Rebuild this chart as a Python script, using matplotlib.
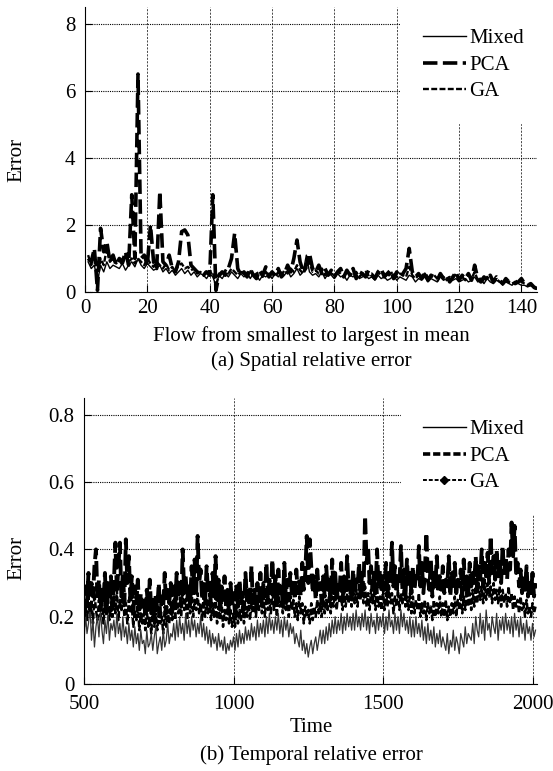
import matplotlib
matplotlib.use("Agg")
import matplotlib.pyplot as plt
from matplotlib.lines import Line2D

plt.rcParams["font.family"] = ["Liberation Serif", "DejaVu Serif"]
plt.rcParams["font.size"] = 14

# ---- (a) spatial relative error, flows 1..145 ----
flow_idx = list(range(1, 146))
spatial_pca = [
    1.00, 0.90, 1.30, 0.05, 1.90, 1.20, 1.50, 0.90, 1.10, 0.80,
    1.00, 0.90, 1.20, 0.80, 2.90, 1.00, 6.50, 1.00, 1.10, 0.80,
    2.00, 0.90, 0.70, 3.00, 0.90, 0.80, 1.10, 0.70, 0.60, 0.90,
    1.80, 1.85, 1.70, 0.80, 0.70, 0.60, 0.55, 0.50, 0.60, 0.50,
    2.90, 0.05, 0.50, 0.60, 0.50, 0.70, 1.00, 1.75, 0.70, 0.50,
    0.60, 0.45, 0.70, 0.50, 0.40, 0.65, 0.50, 0.75, 0.45, 0.60,
    0.50, 0.70, 0.45, 0.55, 0.80, 0.60, 1.00, 1.55, 0.90, 0.60,
    0.80, 1.15, 0.70, 0.60, 0.80, 0.55, 0.70, 0.50, 0.65, 0.45,
    0.60, 0.70, 0.45, 0.65, 0.50, 0.70, 0.40, 0.60, 0.55, 0.45,
    0.65, 0.50, 0.40, 0.60, 0.70, 0.45, 0.55, 0.65, 0.40, 0.60,
    0.45, 0.55, 0.70, 1.30, 0.60, 0.45, 0.55, 0.40, 0.60, 0.35,
    0.50, 0.45, 0.35, 0.55, 0.40, 0.50, 0.30, 0.45, 0.60, 0.35,
    0.50, 0.40, 0.55, 0.35, 0.80, 0.40, 0.30, 0.45, 0.35, 0.50,
    0.30, 0.45, 0.35, 0.25, 0.40, 0.30, 0.35, 0.25, 0.30, 0.40,
    0.25, 0.20, 0.25, 0.15, 0.10,
]
spatial_mixed = [
    0.90, 0.70, 0.80, 0.30, 0.80, 0.60, 0.90, 0.70, 0.80, 0.75,
    0.70, 0.85, 0.65, 0.80, 0.90, 0.75, 1.00, 0.80, 0.70, 0.85,
    0.75, 0.65, 0.70, 0.80, 0.60, 0.70, 0.55, 0.65, 0.50, 0.60,
    0.70, 0.55, 0.65, 0.50, 0.60, 0.45, 0.55, 0.50, 0.40, 0.55,
    0.45, 0.20, 0.50, 0.40, 0.55, 0.45, 0.60, 0.50, 0.40, 0.55,
    0.45, 0.60, 0.40, 0.55, 0.50, 0.35, 0.50, 0.45, 0.55, 0.40,
    0.55, 0.45, 0.60, 0.50, 0.65, 0.45, 0.55, 0.70, 0.50, 0.60,
    1.10, 0.60, 0.50, 0.55, 0.45, 0.60, 0.40, 0.55, 0.50, 0.40,
    0.55, 0.45, 0.50, 0.35, 0.50, 0.45, 0.55, 0.40, 0.45, 0.50,
    0.40, 0.45, 0.35, 0.50, 0.40, 0.45, 0.35, 0.40, 0.50, 0.35,
    0.45, 0.40, 0.35, 0.50, 0.45, 0.30, 0.40, 0.35, 0.45, 0.30,
    0.40, 0.35, 0.30, 0.45, 0.35, 0.40, 0.30, 0.35, 0.40, 0.30,
    0.35, 0.40, 0.30, 0.35, 0.45, 0.30, 0.35, 0.25, 0.40, 0.30,
    0.25, 0.35, 0.30, 0.20, 0.30, 0.25, 0.20, 0.30, 0.25, 0.20,
    0.20, 0.15, 0.20, 0.10, 0.08,
]
spatial_ga = [
    1.10, 0.80, 1.20, 0.40, 1.00, 0.80, 1.30, 0.90, 1.00, 0.85,
    0.95, 0.80, 1.10, 0.90, 1.00, 0.85, 1.00, 0.90, 0.80, 1.00,
    0.85, 0.75, 0.90, 0.80, 0.70, 0.85, 0.65, 0.75, 0.60, 0.80,
    0.85, 0.70, 0.75, 0.65, 0.70, 0.55, 0.60, 0.50, 0.65, 0.55,
    0.60, 0.15, 0.55, 0.50, 0.65, 0.55, 0.70, 0.60, 0.50, 0.60,
    0.55, 0.50, 0.65, 0.45, 0.55, 0.60, 0.45, 0.60, 0.50, 0.55,
    0.45, 0.60, 0.50, 0.65, 0.55, 0.70, 0.60, 0.80, 0.65, 0.55,
    0.70, 0.90, 0.60, 0.65, 0.55, 0.70, 0.50, 0.60, 0.55, 0.50,
    0.60, 0.55, 0.45, 0.60, 0.55, 0.50, 0.60, 0.45, 0.55, 0.60,
    0.50, 0.55, 0.45, 0.60, 0.50, 0.55, 0.45, 0.55, 0.60, 0.45,
    0.55, 0.50, 0.45, 0.75, 0.50, 0.40, 0.50, 0.45, 0.55, 0.40,
    0.45, 0.50, 0.40, 0.50, 0.45, 0.35, 0.45, 0.40, 0.55, 0.40,
    0.45, 0.35, 0.50, 0.40, 0.60, 0.35, 0.40, 0.30, 0.45, 0.35,
    0.35, 0.40, 0.30, 0.30, 0.35, 0.30, 0.25, 0.30, 0.35, 0.30,
    0.25, 0.20, 0.20, 0.15, 0.10,
]

# ---- (b) temporal relative error, time 500..2010 every 5 ----
time_idx = list(range(500, 2011, 5))
temporal_pca = [
    0.20, 0.29, 0.24, 0.33, 0.22, 0.30, 0.26, 0.35, 0.40, 0.25, 0.31, 0.22, 0.28, 0.24, 0.33, 0.21, 0.30, 0.26, 0.32, 0.23,
    0.30, 0.42, 0.27, 0.35, 0.42, 0.26, 0.33, 0.24, 0.43, 0.30, 0.38, 0.25, 0.32, 0.22, 0.29, 0.24, 0.31, 0.21, 0.27, 0.23,
    0.26, 0.20, 0.28, 0.22, 0.31, 0.21, 0.25, 0.19, 0.27, 0.22, 0.30, 0.20, 0.26, 0.23, 0.33, 0.21, 0.28, 0.24, 0.30, 0.22,
    0.29, 0.24, 0.33, 0.26, 0.30, 0.23, 0.40, 0.27, 0.32, 0.25, 0.29, 0.24, 0.35, 0.27, 0.37, 0.26, 0.44, 0.30, 0.34, 0.25,
    0.31, 0.24, 0.35, 0.27, 0.30, 0.23, 0.33, 0.26, 0.38, 0.25, 0.31, 0.22, 0.29, 0.25, 0.32, 0.23, 0.28, 0.21, 0.30, 0.24,
    0.27, 0.21, 0.29, 0.23, 0.31, 0.24, 0.27, 0.22, 0.33, 0.25, 0.29, 0.23, 0.35, 0.24, 0.28, 0.22, 0.30, 0.25, 0.33, 0.24,
    0.30, 0.26, 0.36, 0.25, 0.31, 0.27, 0.37, 0.26, 0.32, 0.24, 0.34, 0.27, 0.30, 0.23, 0.36, 0.26, 0.31, 0.25, 0.33, 0.27,
    0.30, 0.25, 0.34, 0.27, 0.31, 0.26, 0.36, 0.28, 0.33, 0.44, 0.30, 0.43, 0.35, 0.27, 0.32, 0.25, 0.34, 0.28, 0.30, 0.24,
    0.32, 0.26, 0.35, 0.28, 0.31, 0.25, 0.37, 0.27, 0.33, 0.26, 0.30, 0.28, 0.36, 0.25, 0.32, 0.27, 0.38, 0.28, 0.31, 0.26,
    0.34, 0.27, 0.31, 0.29, 0.36, 0.26, 0.33, 0.28, 0.50, 0.36, 0.41, 0.30, 0.35, 0.28, 0.33, 0.27, 0.40, 0.29, 0.34, 0.27,
    0.32, 0.28, 0.36, 0.26, 0.33, 0.30, 0.42, 0.29, 0.35, 0.27, 0.32, 0.30, 0.41, 0.28, 0.34, 0.26, 0.37, 0.29, 0.33, 0.27,
    0.35, 0.28, 0.32, 0.30, 0.41, 0.29, 0.36, 0.27, 0.33, 0.45, 0.31, 0.28, 0.37, 0.26, 0.34, 0.29, 0.38, 0.27, 0.32, 0.28,
    0.35, 0.27, 0.31, 0.29, 0.38, 0.26, 0.33, 0.28, 0.36, 0.27, 0.31, 0.29, 0.34, 0.26, 0.37, 0.28, 0.32, 0.27, 0.36, 0.29,
    0.33, 0.30, 0.38, 0.28, 0.35, 0.31, 0.40, 0.29, 0.36, 0.32, 0.39, 0.30, 0.44, 0.33, 0.38, 0.31, 0.40, 0.32, 0.37, 0.30,
    0.41, 0.33, 0.38, 0.31, 0.40, 0.34, 0.48, 0.38, 0.47, 0.33, 0.36, 0.29, 0.34, 0.27, 0.32, 0.28, 0.35, 0.26, 0.31, 0.27,
    0.33, 0.26, 0.30,
]
temporal_ga = [
    0.17, 0.24, 0.19, 0.26, 0.21, 0.25, 0.18, 0.27, 0.22, 0.19, 0.25, 0.20, 0.26, 0.18, 0.24, 0.21, 0.27, 0.19, 0.23, 0.20,
    0.26, 0.21, 0.28, 0.19, 0.25, 0.22, 0.27, 0.20, 0.24, 0.18, 0.25, 0.21, 0.23, 0.17, 0.22, 0.19, 0.24, 0.16, 0.21, 0.18,
    0.21, 0.16, 0.22, 0.17, 0.20, 0.15, 0.23, 0.17, 0.21, 0.16, 0.22, 0.18, 0.20, 0.15, 0.23, 0.17, 0.22, 0.18, 0.24, 0.19,
    0.25, 0.19, 0.27, 0.21, 0.24, 0.20, 0.28, 0.22, 0.25, 0.19, 0.26, 0.21, 0.28, 0.20, 0.25, 0.22, 0.27, 0.21, 0.24, 0.19,
    0.26, 0.20, 0.25, 0.21, 0.27, 0.19, 0.24, 0.20, 0.26, 0.18, 0.23, 0.19, 0.25, 0.17, 0.22, 0.19, 0.24, 0.18, 0.22, 0.17,
    0.21, 0.17, 0.23, 0.18, 0.22, 0.19, 0.24, 0.18, 0.23, 0.20, 0.25, 0.19, 0.24, 0.21, 0.26, 0.20, 0.25, 0.22, 0.27, 0.21,
    0.26, 0.20, 0.27, 0.22, 0.25, 0.21, 0.28, 0.22, 0.26, 0.20, 0.27, 0.23, 0.25, 0.21, 0.28, 0.22, 0.26, 0.20, 0.27, 0.22,
    0.25, 0.20, 0.24, 0.19, 0.26, 0.21, 0.24, 0.18, 0.23, 0.20, 0.22, 0.18, 0.24, 0.19, 0.23, 0.20, 0.25, 0.21, 0.24, 0.20,
    0.26, 0.21, 0.25, 0.22, 0.27, 0.21, 0.26, 0.23, 0.28, 0.22, 0.27, 0.24, 0.26, 0.22, 0.29, 0.23, 0.27, 0.24, 0.28, 0.23,
    0.29, 0.24, 0.28, 0.23, 0.30, 0.25, 0.28, 0.24, 0.29, 0.23, 0.27, 0.22, 0.28, 0.24, 0.27, 0.22, 0.29, 0.23, 0.26, 0.22,
    0.28, 0.22, 0.27, 0.23, 0.29, 0.24, 0.27, 0.21, 0.26, 0.23, 0.28, 0.22, 0.27, 0.24, 0.29, 0.23, 0.26, 0.22, 0.27, 0.21,
    0.26, 0.21, 0.25, 0.22, 0.27, 0.20, 0.24, 0.21, 0.25, 0.19, 0.24, 0.21, 0.23, 0.19, 0.25, 0.20, 0.24, 0.21, 0.26, 0.20,
    0.24, 0.20, 0.25, 0.19, 0.23, 0.20, 0.24, 0.21, 0.26, 0.20, 0.25, 0.22, 0.27, 0.21, 0.26, 0.22, 0.28, 0.23, 0.27, 0.22,
    0.28, 0.23, 0.29, 0.24, 0.30, 0.25, 0.29, 0.24, 0.31, 0.25, 0.30, 0.26, 0.29, 0.24, 0.30, 0.25, 0.28, 0.24, 0.29, 0.23,
    0.28, 0.24, 0.27, 0.23, 0.29, 0.24, 0.27, 0.22, 0.26, 0.23, 0.25, 0.21, 0.26, 0.22, 0.24, 0.20, 0.25, 0.21, 0.23, 0.20,
    0.24, 0.21, 0.23,
]
temporal_mixed = [
    0.12, 0.21, 0.15, 0.18, 0.23, 0.13, 0.19, 0.11, 0.17, 0.20, 0.14, 0.22, 0.16, 0.12, 0.19, 0.15, 0.21, 0.13, 0.18, 0.16,
    0.19, 0.14, 0.21, 0.15, 0.18, 0.13, 0.20, 0.14, 0.17, 0.12, 0.18, 0.13, 0.16, 0.11, 0.17, 0.12, 0.15, 0.10, 0.16, 0.12,
    0.13, 0.09, 0.16, 0.11, 0.12, 0.15, 0.10, 0.14, 0.17, 0.09, 0.12, 0.14, 0.10, 0.16, 0.11, 0.13, 0.18, 0.12, 0.15, 0.14,
    0.18, 0.13, 0.19, 0.14, 0.20, 0.15, 0.18, 0.13, 0.21, 0.15, 0.19, 0.14, 0.20, 0.16, 0.19, 0.14, 0.18, 0.15, 0.20, 0.14,
    0.18, 0.13, 0.17, 0.12, 0.16, 0.11, 0.15, 0.12, 0.14, 0.10, 0.15, 0.11, 0.13, 0.10, 0.14, 0.09, 0.12, 0.10, 0.13, 0.11,
    0.14, 0.10, 0.15, 0.11, 0.16, 0.12, 0.15, 0.12, 0.17, 0.13, 0.16, 0.13, 0.18, 0.14, 0.17, 0.13, 0.19, 0.14, 0.18, 0.15,
    0.19, 0.14, 0.20, 0.15, 0.21, 0.16, 0.19, 0.15, 0.20, 0.16, 0.21, 0.15, 0.19, 0.14, 0.20, 0.16, 0.19, 0.14, 0.18, 0.15,
    0.17, 0.12, 0.15, 0.13, 0.11, 0.16, 0.10, 0.13, 0.09, 0.12, 0.08, 0.11, 0.13, 0.09, 0.12, 0.14, 0.10, 0.13, 0.16, 0.12,
    0.16, 0.12, 0.17, 0.13, 0.18, 0.14, 0.19, 0.15, 0.20, 0.15, 0.19, 0.16, 0.21, 0.15, 0.20, 0.16, 0.21, 0.17, 0.20, 0.16,
    0.21, 0.16, 0.22, 0.17, 0.20, 0.16, 0.21, 0.17, 0.22, 0.16, 0.20, 0.15, 0.21, 0.17, 0.19, 0.15, 0.21, 0.16, 0.20, 0.17,
    0.21, 0.15, 0.20, 0.16, 0.22, 0.17, 0.19, 0.15, 0.21, 0.16, 0.20, 0.15, 0.22, 0.17, 0.21, 0.16, 0.19, 0.15, 0.20, 0.14,
    0.19, 0.14, 0.20, 0.15, 0.18, 0.14, 0.19, 0.13, 0.17, 0.12, 0.18, 0.13, 0.16, 0.12, 0.17, 0.11, 0.15, 0.12, 0.16, 0.11,
    0.14, 0.12, 0.10, 0.15, 0.09, 0.13, 0.11, 0.16, 0.10, 0.14, 0.12, 0.09, 0.15, 0.13, 0.11, 0.17, 0.12, 0.15, 0.14, 0.13,
    0.18, 0.12, 0.20, 0.16, 0.14, 0.21, 0.15, 0.19, 0.13, 0.22, 0.16, 0.18, 0.14, 0.20, 0.17, 0.15, 0.21, 0.13, 0.19, 0.16,
    0.20, 0.15, 0.21, 0.16, 0.19, 0.15, 0.20, 0.14, 0.21, 0.16, 0.19, 0.14, 0.20, 0.15, 0.18, 0.13, 0.19, 0.15, 0.17, 0.13,
    0.18, 0.14, 0.16,
]

W, H = 553, 771
fig = plt.figure(figsize=(W / 100, H / 100), dpi=100)


def px_axes(left, top, right, bottom):
    return fig.add_axes([left / W, 1 - bottom / H, (right - left) / W, (bottom - top) / H])


def style_axes(ax):
    ax.spines["top"].set_visible(False)
    ax.spines["right"].set_visible(False)
    ax.tick_params(direction="in", length=5, width=0.8, labelsize=15)
    ax.tick_params(axis="x", pad=5)
    ax.tick_params(axis="y", pad=7)
    ax.grid(axis="y", color="black", linestyle=(0, (1, 1)), linewidth=0.8)
    ax.grid(axis="x", color="black", linestyle=(0, (3, 2)), linewidth=0.5)
    ax.set_axisbelow(True)


# white legend box without a border, reaching the top of the axes
leg_kw = dict(loc="upper right", bbox_to_anchor=(1.02, 1.0), fontsize=15,
              handlelength=2.1, handletextpad=0.15, labelspacing=0.33,
              borderpad=1.05, borderaxespad=0.0, frameon=True, fancybox=False,
              facecolor="white", edgecolor="white", framealpha=1)

# top panel
ax1 = px_axes(85, 7, 537, 292)
ax1.plot(flow_idx, spatial_mixed, color="black", lw=1.0, label="Mixed")
ax1.plot(flow_idx, spatial_pca, color="black", lw=2.6, dashes=(4, 1.5), label="PCA")
ax1.plot(flow_idx, spatial_ga, color="black", lw=1.7, dashes=(2.5, 1), label="GA")
ax1.set_xlim(0, 145)
ax1.set_ylim(0, 8.5)
ax1.set_xticks(range(0, 141, 20))
ax1.set_yticks(range(0, 9, 2))
style_axes(ax1)
ax1.legend(**leg_kw)

# bottom panel
ax2 = px_axes(84, 398, 537, 684)
ax2.plot(time_idx, temporal_ga, color="black", lw=1.8, dashes=(2.5, 1))
ax2.plot(time_idx, temporal_mixed, color="#333333", lw=0.9)
ax2.plot(time_idx, temporal_pca, color="black", lw=2.8, dashes=(4, 1.5))
ax2.set_xlim(500, 2015)
ax2.set_ylim(0, 0.85)
ax2.set_xticks([500, 1000, 1500, 2000])
ax2.set_yticks([0, 0.2, 0.4, 0.6, 0.8])
ax2.set_yticklabels(["0", "0.2", "0.4", "0.6", "0.8"])
style_axes(ax2)
ax2.tick_params(axis="x", pad=8)
handles2 = [
    Line2D([], [], color="black", lw=1.0),
    Line2D([], [], color="black", lw=2.6, dashes=(2, 0.8)),
    Line2D([], [], color="black", lw=1.4, dashes=(2, 1), marker="D", markersize=4),
]
ax2.legend(handles2, ["Mixed", "PCA", "GA"], numpoints=1, **leg_kw)

# axis labels and captions
fig.text(0.031, 1 - 160 / H, "Error", rotation=90, ha="center", va="center", fontsize=15)
fig.text(0.031, 1 - 558 / H, "Error", rotation=90, ha="center", va="center", fontsize=15)
cx = (85 + 537) / 2 / W
fig.text(cx, 1 - 336 / H, "Flow from smallest to largest in mean", ha="center", va="center", fontsize=15)
fig.text(cx, 1 - 361 / H, "(a) Spatial relative error", ha="center", va="center", fontsize=15)
fig.text(cx, 1 - 727 / H, "Time", ha="center", va="center", fontsize=15)
fig.text(cx, 1 - 755 / H, "(b) Temporal relative error", ha="center", va="center", fontsize=15)

fig.savefig("out.png", dpi=100)
